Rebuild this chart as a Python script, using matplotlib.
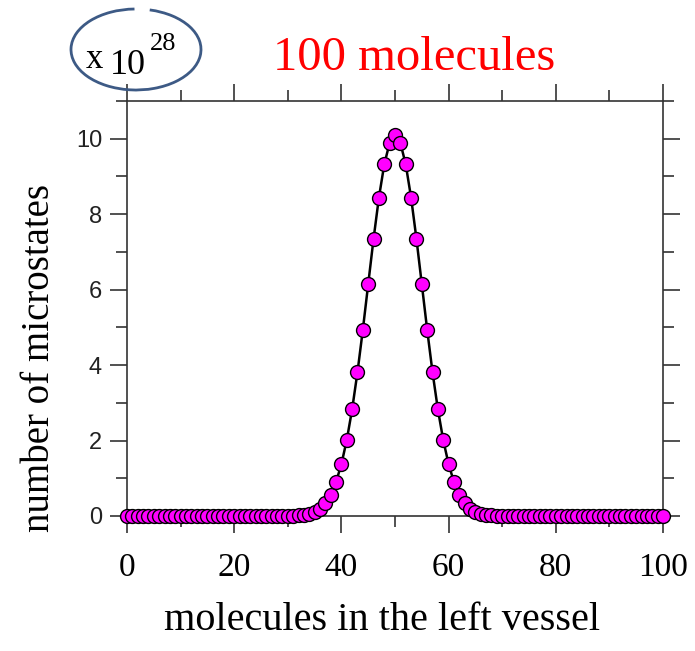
import matplotlib
matplotlib.use("Agg")
import matplotlib.pyplot as plt
from matplotlib.patches import Arc
from matplotlib.ticker import MultipleLocator

# number of molecules in the left vessel
molecules = list(range(0, 101))
# number of microstates (in units of 1e28)
left_half = [0.00] * 27 + [0.0002, 0.0005, 0.0012, 0.0029, 0.0066, 0.0143, 0.0295,
             0.0581, 0.1095, 0.1977, 0.3420, 0.5670, 0.9014, 1.3746, 2.0116,
             2.8258, 3.8116, 4.9378, 6.1449, 7.3471, 8.4414, 9.3207, 9.8913]
peak = [10.0891]
microstates = left_half + peak + left_half[::-1]

xticks = [0, 20, 40, 60, 80, 100]
yticks = [0, 2, 4, 6, 8, 10]

title_text = "100 molecules"
xlabel_text = "molecules in the left vessel"
ylabel_text = "number of microstates"

W, H = 695, 651
fig = plt.figure(figsize=(W / 100, H / 100), dpi=100)
ax = fig.add_axes([127 / W, 1 - 516 / H, (663 - 127) / W, (516 - 101) / H])

ax.plot(molecules, microstates, color="black", lw=1.8, zorder=2, clip_on=False)
ax.plot(molecules, microstates, ls="none", marker="o", ms=10,
        mfc="#ff00ff", mec="black", mew=1.0, zorder=3, clip_on=False)

ax.set_xlim(0, 100)
ax.set_ylim(0, 11)
ax.set_xticks(xticks)
ax.set_yticks(yticks)
ax.xaxis.set_minor_locator(MultipleLocator(10))
ax.yaxis.set_minor_locator(MultipleLocator(1))

spine_c = "#333333"
for s in ax.spines.values():
    s.set_color(spine_c)
    s.set_linewidth(1.2)

ax.tick_params(which="both", direction="out", top=True, right=True,
               color=spine_c, width=1.2)
ax.tick_params(which="major", length=12)
ax.tick_params(which="minor", length=8)
ax.tick_params(axis="x", which="major", pad=14, labelsize=24)
ax.tick_params(axis="y", which="major", pad=6, labelsize=17)
for lab in ax.get_xticklabels():
    lab.set_fontfamily("Liberation Serif")
for lab in ax.get_yticklabels():
    lab.set_fontfamily("Liberation Sans")
    lab.set_color("#222222")

fig.text(414 / W, 1 - 70 / H, title_text, color="red", fontsize=35,
         family="Liberation Serif", ha="center", va="baseline")
fig.text(382 / W, 1 - 630 / H, xlabel_text, fontsize=29,
         family="Liberation Serif", ha="center", va="baseline")
fig.text(40 / W, 1 - 358 / H, ylabel_text, fontsize=28, rotation=90,
         family="Liberation Serif", ha="center", va="center")

# multiplier label in an ellipse
fig.text(86 / W, 1 - 68 / H, "x", fontsize=25, family="Liberation Serif",
         ha="left", va="baseline")
fig.text(110 / W, 1 - 74 / H, "10", fontsize=26, family="Liberation Serif",
         ha="left", va="baseline")
fig.text(150 / W, 1 - 50 / H, "28", fontsize=19, family="Liberation Serif",
         ha="left", va="baseline")
ell = Arc((136 / W, 1 - 49.5 / H), 130 / W, 81 / H, theta1=92, theta2=432,
          transform=fig.transFigure, color="#3d5a85", lw=2.0)
fig.add_artist(ell)

fig.savefig("out.png", dpi=100)
